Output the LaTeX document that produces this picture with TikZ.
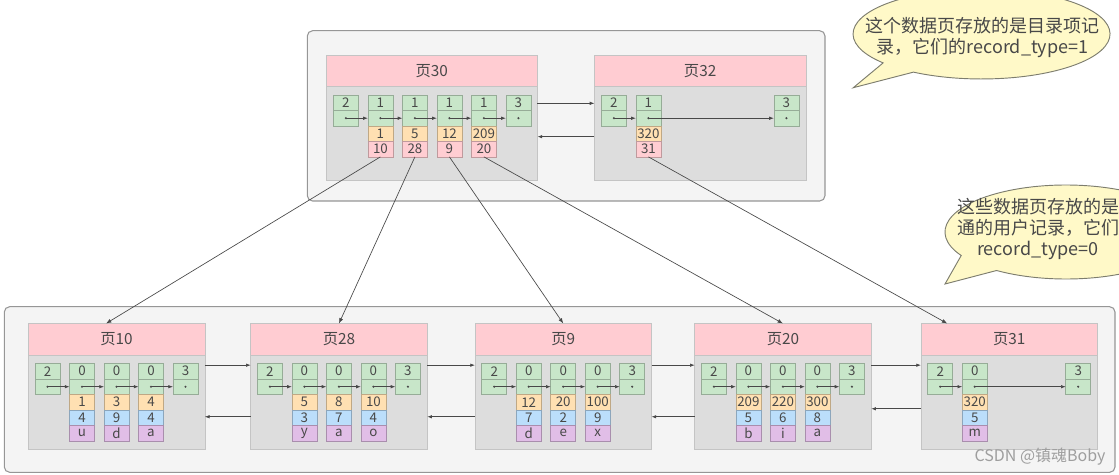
\documentclass[tikz,border=0pt]{standalone}
\usepackage{fontspec}
\setmainfont{Noto Sans CJK SC}
\usepackage{tikz}
\usetikzlibrary{positioning}
\usetikzlibrary{arrows.meta}
\usepackage{xcolor}
\definecolor{ink}{RGB}{72,72,72}
\definecolor{hdpink}{RGB}{255,204,210}
\definecolor{bodygray}{RGB}{221,221,221}
\definecolor{bodyedge}{RGB}{196,196,196}
\definecolor{boxfill}{RGB}{244,244,244}
\definecolor{boxedge}{RGB}{150,150,150}
\definecolor{gfill}{RGB}{200,230,201}
\definecolor{ofill}{RGB}{255,224,178}
\definecolor{pfill}{RGB}{255,205,210}
\definecolor{bfill}{RGB}{187,222,251}
\definecolor{vfill}{RGB}{225,190,231}
\definecolor{notefill}{RGB}{255,249,200}
\definecolor{noteedge}{RGB}{125,125,110}

\begin{document}
\begin{tikzpicture}[x=0.75pt,y=-0.75pt,
  box/.style={draw=boxedge,fill=boxfill,rounded corners=4pt,line width=0.8pt},
  pghead/.style={draw=bodyedge,fill=hdpink,anchor=north west,minimum height=23.75pt,
    inner sep=0pt,outer sep=0pt,font=\fontsize{11.5}{11.5}\selectfont,text=ink},
  pgbody/.style={draw=bodyedge,fill=bodygray,minimum height=70.25pt,inner sep=0pt,outer sep=0pt},
  cell/.style={draw=#1!75!black,fill=#1,minimum width=18.75pt,minimum height=11.6pt,
    inner sep=0pt,outer sep=0pt,line width=0.4pt,font=\fontsize{10}{10}\selectfont,text=ink},
  gtop/.style={cell=gfill,anchor=north west},
  gbot/.style={cell=gfill},
  ptr/.style={draw=ink,line width=0.5pt,-{Latex[length=3.5pt,width=2.6pt]}},
  link/.style={draw=ink,line width=0.5pt,-{Latex[length=4pt,width=3pt]}},
  bubble/.style={draw=noteedge,fill=notefill,line width=0.7pt},
  note/.style={align=center,text=ink,font=\fontsize{13.5}{15.75}\selectfont},
  wmark/.style={text=black!38,font=\fontsize{12}{12}\selectfont}]

\useasboundingbox (0,0) rectangle (1119,474);
\clip (0,0) rectangle (1119,474);

% outer frames
\draw[box] (307.3,30.7) rectangle (825,201);
\draw[box] (4.3,306.7) rectangle (1115,472.3);

% notes
\draw[bubble] (853.3,87.7) -- (883.1,62.9)
  arc[start angle=140,end angle=482,x radius=128.5,y radius=45] -- cycle;
\node[note] (n1) at (982.5,37) {这个数据页存放的是目录项记\\录，它们的record\_type=1};

\draw[bubble] (945,284) -- (961.2,255.5)
  arc[start angle=150,end angle=485,x radius=121,y radius=47] -- cycle;
\node[note] (n2) at (1038,229) {这些数据页存放的是\\通的用户记录，它们\\record\_type=0};

% upper level
\node[pghead,minimum width=158.6pt] (h30) at (326,55) {页30};
\node[pgbody,minimum width=158.6pt,below=0pt of h30] (b30) {};
\node[pghead,minimum width=158.6pt] (h32) at (594.4,55) {页32};
\node[pgbody,minimum width=158.6pt,below=0pt of h32] (b32) {};

\foreach \i/\cnt in {0/2,1/1,2/1,3/1,4/1,5/3} {
  \node[gtop] (r30-\i-t) at (333.4+34.5*\i,95) {\cnt};
  \node[gbot,below=0pt of r30-\i-t] (r30-\i-b) {};
  \fill[ink] (r30-\i-b) circle (0.9pt);
}
\foreach \i/\k/\p in {1/1/10,2/5/28,3/12/9,4/209/20} {
  \node[cell=ofill,below=0pt of r30-\i-b] (k30-\i) {\k};
  \node[cell=pfill,below=0pt of k30-\i] (p30-\i) {\p};
}
\foreach \i [evaluate=\i as \j using int(\i+1)] in {0,...,4}
  \draw[ptr] (r30-\i-b.center) -- (r30-\j-b.west);

\foreach \i/\cnt in {0/2,1/1,5/3} {
  \node[gtop] (r32-\i-t) at (601.4+34.5*\i,95) {\cnt};
  \node[gbot,below=0pt of r32-\i-t] (r32-\i-b) {};
  \fill[ink] (r32-\i-b) circle (0.9pt);
}
\node[cell=ofill,below=0pt of r32-1-b] (k32-1) {320};
\node[cell=pfill,below=0pt of k32-1] (p32-1) {31};
\draw[ptr] (r32-0-b.center) -- (r32-1-b.west);
\draw[ptr] (r32-1-b.center) -- (r32-5-b.west);

\draw[ptr] ([yshift=-12.5pt]b30.north east) -- ([yshift=-12.5pt]b32.north west);
\draw[ptr] ([yshift=-37.5pt]b32.north west) -- ([yshift=-37.5pt]b30.north east);

% leaf level
\foreach \pg/\pl in {10/28.3,28/250.7,9/475,20/694.7,31/921} {
  \node[pghead,minimum width=132.4pt] (h\pg) at (\pl,323.5) {页\pg};
  \node[pgbody,minimum width=132.4pt,below=0pt of h\pg] (b\pg) {};
}

\foreach \pg/\pl/\recs in {10/28.3/{1/4/u,3/9/d,4/4/a},28/250.7/{5/3/y,8/7/a,10/4/o},
    9/475/{12/7/d,20/2/e,100/9/x},20/694.7/{209/5/b,220/6/i,300/8/a}} {
  \node[gtop] (r\pg-0-t) at (\pl+6.7,363.5) {2};
  \node[gbot,below=0pt of r\pg-0-t] (r\pg-0-b) {};
  \foreach \k/\id/\c [count=\i] in \recs {
    \node[gtop] (r\pg-\i-t) at (\pl+6.7+34.5*\i,363.5) {0};
    \node[gbot,below=0pt of r\pg-\i-t] (r\pg-\i-b) {};
    \node[cell=ofill,below=0pt of r\pg-\i-b] (k\pg-\i) {\k};
    \node[cell=bfill,below=0pt of k\pg-\i] (n\pg-\i) {\id};
    \node[cell=vfill,below=0pt of n\pg-\i] (c\pg-\i) {\c};
  }
  \node[gtop] (r\pg-4-t) at (\pl+6.7+34.5*4,363.5) {3};
  \node[gbot,below=0pt of r\pg-4-t] (r\pg-4-b) {};
  \foreach \i [evaluate=\i as \j using int(\i+1)] in {0,...,3} {
    \fill[ink] (r\pg-\i-b) circle (0.9pt);
    \draw[ptr] (r\pg-\i-b.center) -- (r\pg-\j-b.west);
  }
  \fill[ink] (r\pg-4-b) circle (0.9pt);
}

\foreach \i/\cnt in {0/2,1/0,4/3} {
  \node[gtop] (r31-\i-t) at (927.7+34.5*\i,363.5) {\cnt};
  \node[gbot,below=0pt of r31-\i-t] (r31-\i-b) {};
  \fill[ink] (r31-\i-b) circle (0.9pt);
}
\node[cell=ofill,below=0pt of r31-1-b] (k31-1) {320};
\node[cell=bfill,below=0pt of k31-1] (n31-1) {5};
\node[cell=vfill,below=0pt of n31-1] (c31-1) {m};
\draw[ptr] (r31-0-b.center) -- (r31-1-b.west);
\draw[ptr] (r31-1-b.center) -- (r31-4-b.west);

% sibling links
\foreach \a/\b in {10/28,28/9,9/20,20/31}
  \draw[ptr] ([yshift=-7.5pt]b\a.north east) -- ([yshift=-7.5pt]b\b.north west);
\foreach \a/\b in {28/10,9/28,20/9}
  \draw[ptr] ([yshift=-46.2pt]b\a.north west) -- ([yshift=-46.2pt]b\b.north east);
\draw[ptr] ([yshift=-40.2pt]b31.north west) -- ([yshift=-40.2pt]b20.north east);

% parent to child
\draw[link] (p30-1.south) -- ([xshift=-7.9pt]h10.north);
\draw[link] (p30-2.south) -- (h28.north);
\draw[link] (p30-3.south) -- (h9.north);
\draw[link] (p30-4.south) -- (h20.north);
\draw[link] (p32-1.south) -- ([xshift=-46.5pt]h31.north);

\node[wmark] (wm) at (1040,457) {CSDN @镇魂Boby};
\end{tikzpicture}
\end{document}
